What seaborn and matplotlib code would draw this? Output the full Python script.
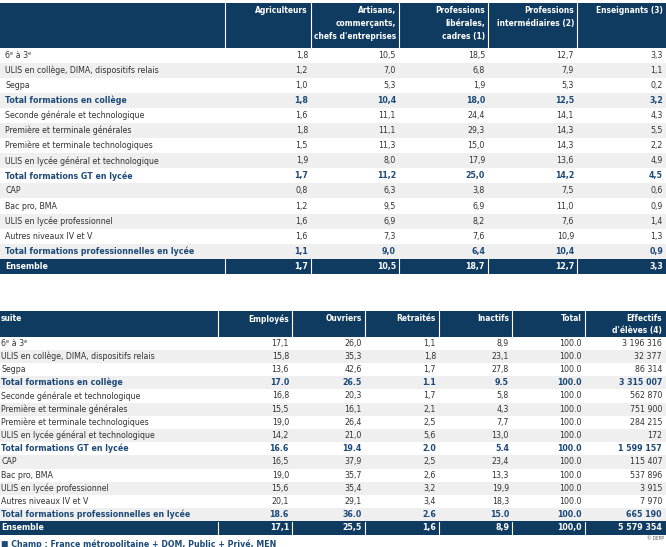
import numpy as np
import pandas as pd
import seaborn as sns
import matplotlib.pyplot as plt

# row labels (shared by both halves of the table)
labels = ["6ᵉ à 3ᵉ", "ULIS en collège, DIMA, dispositifs relais", "Segpa",
          "Total formations en collège", "Seconde générale et technologique",
          "Première et terminale générales", "Première et terminale technologiques",
          "ULIS en lycée général et technologique", "Total formations GT en lycée",
          "CAP", "Bac pro, BMA", "ULIS en lycée professionnel",
          "Autres niveaux IV et V", "Total formations professionnelles en lycée",
          "Ensemble"]
row_kind = ["n", "n", "n", "t", "n", "n", "n", "n", "t", "n", "n", "n", "n", "t", "e"]

# first half
top_headers = ["Agriculteurs", "Artisans,\ncommerçants,\nchefs d'entreprises",
               "Professions\nlibérales,\ncadres (1)", "Professions\nintermédiaires (2)",
               "Enseignants (3)"]
agriculteurs = [1.8, 1.2, 1.0, 1.8, 1.6, 1.8, 1.5, 1.9, 1.7, 0.8, 1.2, 1.6, 1.6, 1.1, 1.7]
artisans = [10.5, 7.0, 5.3, 10.4, 11.1, 11.1, 11.3, 8.0, 11.2, 6.3, 9.5, 6.9, 7.3, 9.0, 10.5]
prof_liberales = [18.5, 6.8, 1.9, 18.0, 24.4, 29.3, 15.0, 17.9, 25.0, 3.8, 6.9, 8.2, 7.6, 6.4, 18.7]
prof_intermediaires = [12.7, 7.9, 5.3, 12.5, 14.1, 14.3, 14.3, 13.6, 14.2, 7.5, 11.0, 7.6, 10.9, 10.4, 12.7]
enseignants = [3.3, 1.1, 0.2, 3.2, 4.3, 5.5, 2.2, 4.9, 4.5, 0.6, 0.9, 1.4, 1.3, 0.9, 3.3]

# second half
bottom_headers = ["Employés", "Ouvriers", "Retraités", "Inactifs", "Total",
                  "Effectifs\nd'élèves (4)"]
employes = [17.1, 15.8, 13.6, 17.0, 16.8, 15.5, 19.0, 14.2, 16.6, 16.5, 19.0, 15.6, 20.1, 18.6, 17.1]
ouvriers = [26.0, 35.3, 42.6, 26.5, 20.3, 16.1, 26.4, 21.0, 19.4, 37.9, 35.7, 35.4, 29.1, 36.0, 25.5]
retraites = [1.1, 1.8, 1.7, 1.1, 1.7, 2.1, 2.5, 5.6, 2.0, 2.5, 2.6, 3.2, 3.4, 2.6, 1.6]
inactifs = [8.9, 23.1, 27.8, 9.5, 5.8, 4.3, 7.7, 13.0, 5.4, 23.4, 13.3, 19.9, 18.3, 15.0, 8.9]
total = [100.0, 100.0, 100.0, 100.0, 100.0, 100.0, 100.0, 100.0, 100.0, 100.0,
         100.0, 100.0, 100.0, 100.0, 100.0]
effectifs = [3196316, 32377, 86314, 3315007, 562870, 751900, 284215, 172,
             1599157, 115407, 537896, 3915, 7970, 665190, 5579354]

NAVY = "#0f3b61"
BOLD_BLUE = "#1c4a78"
GREY_ROW = "#efefef"
TEXT = "#333333"
FS_BODY = 6.3
FS_HEAD = 6.0

sns.set_theme(style="white")
plt.rcParams["font.family"] = ["DejaVu Sans"]
plt.rcParams["font.stretch"] = "condensed"


def fmt_pct(v, kind, dot=False):
    s = f"{v:.1f}"
    if dot and kind != "e":
        return s
    return s.replace(".", ",")


def fmt_int(v):
    return f"{v:,}".replace(",", " ")


def draw_table(ax, df, headers, first_header, edges, head_top, head_bot, row_h,
               label_x, fmts, head_gap):
    # header band
    ax.add_patch(plt.Rectangle((0, head_top), 666, head_bot - head_top,
                               color=NAVY, lw=0))
    n = len(df)
    for i, kind in enumerate(df["kind"]):
        y0 = head_bot + i * row_h
        if kind == "e":
            ax.add_patch(plt.Rectangle((0, y0), 666, row_h, color=NAVY, lw=0))
        elif i % 2 == 1:
            ax.add_patch(plt.Rectangle((0, y0), 666, row_h, color=GREY_ROW, lw=0))
    # white separators in header and Ensemble row
    ens_top = head_bot + (n - 1) * row_h
    for x in edges[1:-1]:
        ax.plot([x, x], [head_top, head_bot], color="white", lw=0.8)
        ax.plot([x, x], [ens_top + 0.5, ens_top + row_h - 0.5], color="white", lw=0.8)
    if first_header:
        ax.text(label_x, head_top + 3, first_header, color="white", fontsize=FS_HEAD,
                fontweight="bold", va="top", ha="left")
    for j, h in enumerate(headers):
        ax.text(edges[j + 2] - 3, head_top + 3, h, color="white", fontsize=FS_HEAD,
                fontweight="bold", va="top", ha="right", linespacing=head_gap)
    # body
    cols = [c for c in df.columns if c not in ("label", "kind")]
    for i, row in df.iterrows():
        yc = head_bot + (i + 0.5) * row_h
        kind = row["kind"]
        if kind == "e":
            color, weight = "white", "bold"
        elif kind == "t":
            color, weight = BOLD_BLUE, "bold"
        else:
            color, weight = TEXT, "normal"
        ax.text(label_x, yc, row["label"], color=color, fontweight=weight,
                fontsize=FS_BODY, va="center", ha="left")
        for j, c in enumerate(cols):
            ax.text(edges[j + 2] - 3, yc, fmts[j](row[c], kind), color=color,
                    fontweight=weight, fontsize=FS_BODY, va="center", ha="right")


top_df = pd.DataFrame({"label": labels, "kind": row_kind,
                       "agri": agriculteurs, "art": artisans, "lib": prof_liberales,
                       "int": prof_intermediaires, "ens": enseignants})
bot_df = pd.DataFrame({"label": labels, "kind": row_kind,
                       "emp": employes, "ouv": ouvriers, "ret": retraites,
                       "ina": inactifs, "tot": total, "eff": effectifs})

fig = plt.figure(figsize=(6.66, 5.47), dpi=100)
ax = fig.add_axes([0, 0, 1, 1])
ax.set_xlim(0, 666)
ax.set_ylim(547, 0)
ax.axis("off")

pct = lambda v, k: fmt_pct(v, k)
draw_table(ax, top_df, top_headers, None,
           [0, 225, 311, 399, 488, 577, 666], 3, 47.5, 15.1, 5, [pct] * 5, 1.55)

bold_dot = lambda v, k: fmt_pct(v, k, dot=(k == "t"))
tot_fmt = lambda v, k: fmt_pct(v, k, dot=True)
eff_fmt = lambda v, k: fmt_int(v)
draw_table(ax, bot_df, bottom_headers, "suite",
           [0, 218, 292, 365, 439, 512, 585, 665], 311, 336.5, 13.2, 1,
           [bold_dot, bold_dot, bold_dot, bold_dot, tot_fmt, eff_fmt], 1.45)

ax.text(1, 539.5, "■ Champ : France métropolitaine + DOM, Public + Privé, MEN",
        color=BOLD_BLUE, fontsize=FS_BODY, fontweight="bold", va="top", ha="left")
ax.text(664, 538, "© DEPP", color="#555555", fontsize=3.5, va="center", ha="right")

fig.savefig("out.png", dpi=100)
